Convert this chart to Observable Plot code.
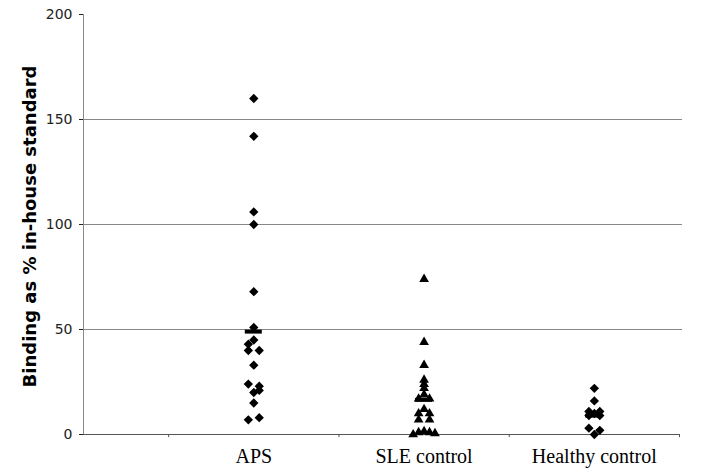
<!DOCTYPE html>
<html><head><meta charset="utf-8">
<script src="https://cdn.jsdelivr.net/npm/d3@7"></script>
<script src="https://cdn.jsdelivr.net/npm/@observablehq/plot@0.6"></script>
<style>body{margin:0;background:#fff}</style>
</head><body><div id="chart"></div>
<script>
const groups = ["APS", "SLE control", "Healthy control"];
const groupPos = [1, 2, 3];
const yTicks = [0, 50, 100, 150, 200];
const gridValues = [50, 100, 150];
const yLabel = "Binding as % in-house standard";

const apsValues = [160, 142, 106, 100, 68, 51, 45, 43, 40, 40, 33, 24, 23, 21, 20, 15, 8, 7];
const apsCols   = [0,   0,   0,   0,   0,  0,  0, -1, -1,  1,  0, -1,  1,  1,  0,  0,  1, -1];

const sleValues = [74, 44, 33, 26, 24, 22, 19, 17, 17, 12, 10, 10, 7, 7, 0, 1, 1.5, 1, 0.5];
const sleCols   = [0,  0,  0,  0,  0,  0,  0, -1,  1,  0, -1,  1, -1, 1, -2, -1, 0, 1, 2];

const healthyValues = [22, 16, 11, 11, 10, 9, 9, 3, 2, 0];
const healthyCols   = [0,  0, -1,  1,  0, -1, 1, -1, 1, 0];

const groupMeans = [49, 16.5, 9];

const spread = 0.032;
const toPoints = (vals, cols, g) => vals.map((v, i) => ({x: groupPos[g] + cols[i] * spread, y: v}));
const aps = toPoints(apsValues, apsCols, 0);
const sle = toPoints(sleValues, sleCols, 1);
const healthy = toPoints(healthyValues, healthyCols, 2);
const means = groupMeans.map((m, i) => ({pos: groupPos[i], m}));
const labels = groups.map((g, i) => ({pos: groupPos[i], g}));

const chart = Plot.plot({
  width: 706, height: 474,
  marginLeft: 83, marginRight: 27, marginTop: 14, marginBottom: 40,
  style: {background: "white", fontFamily: "DejaVu Sans, Verdana, sans-serif", fontSize: "14px", color: "#222"},
  x: {domain: [0, 3.5], axis: null},
  y: {domain: [0, 200], ticks: yTicks, tickSize: 4, tickPadding: 7, label: null},
  marks: [
    Plot.ruleY(gridValues, {stroke: "#888", strokeWidth: 1, insetRight: -3}),
    Plot.ruleX([0], {stroke: "#888", strokeWidth: 1}),
    Plot.ruleY([0], {stroke: "#555", strokeWidth: 1}),
    Plot.ruleX([0.5, 1.5, 2.5, 3.5], {y1: 0, y2: -1.5, stroke: "#555"}),
    Plot.ruleY(means, {x1: d => d.pos - 0.05, x2: d => d.pos + 0.05, y: "m", stroke: "black", strokeWidth: 4}),
    Plot.dot(aps, {x: "x", y: "y", symbol: "diamond2", r: 4.2, fill: "black", stroke: "none"}),
    Plot.dot(sle, {x: "x", y: "y", symbol: "triangle", r: 3.6, fill: "black", stroke: "none"}),
    Plot.dot(healthy, {x: "x", y: "y", symbol: "diamond2", r: 4.2, fill: "black", stroke: "none"}),
    Plot.text(labels, {x: "pos", y: 0, text: "g", dy: 22, fontFamily: "Liberation Serif, Times New Roman, serif", fontSize: 20, fill: "black"}),
    Plot.text([yLabel], {frameAnchor: "left", dx: -53, dy: 2, rotate: -90, textAnchor: "middle", fontWeight: "bold", fontSize: 18, fill: "black"})
  ]
});
document.getElementById("chart").appendChild(chart);
</script>
</body></html>
